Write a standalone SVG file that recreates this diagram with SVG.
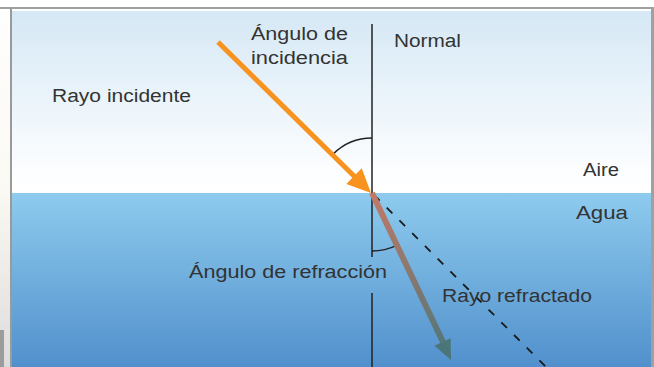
<svg xmlns="http://www.w3.org/2000/svg" width="654" height="367" viewBox="0 0 654 367">
<defs>
<linearGradient id="sky" x1="0" y1="0" x2="0" y2="1">
<stop offset="0" stop-color="#d5e8f5"/>
<stop offset="0.9" stop-color="#fdfeff"/>
<stop offset="1" stop-color="#ffffff"/>
</linearGradient>
<linearGradient id="water" x1="0" y1="0" x2="0" y2="1">
<stop offset="0" stop-color="#8ecbee"/>
<stop offset="1" stop-color="#5190cc"/>
</linearGradient>
<linearGradient id="strip" x1="0" y1="0" x2="0" y2="1">
<stop offset="0" stop-color="#fefefe"/>
<stop offset="0.5" stop-color="#fbf9f3"/>
<stop offset="1" stop-color="#dcdcdc"/>
</linearGradient>
<linearGradient id="refr" gradientUnits="userSpaceOnUse" x1="372" y1="193" x2="451" y2="360">
<stop offset="0" stop-color="#c27a68"/>
<stop offset="1" stop-color="#4b7679"/>
</linearGradient>
<style>
.t{font-family:"Liberation Sans",Arial,sans-serif;font-size:18px;fill:#333333}
.ln{stroke:#222;stroke-width:1.5;fill:none}
</style>
</defs>
<rect x="0" y="0" width="654" height="367" fill="#ffffff"/>
<rect x="0" y="10" width="10" height="357" fill="url(#strip)"/>
<rect x="0" y="330" width="4" height="37" fill="#9c9c9c"/>
<rect x="12" y="11" width="639" height="182" fill="url(#sky)"/>
<rect x="12" y="193" width="639" height="174" fill="url(#water)"/>
<rect x="0" y="7" width="654" height="2" fill="#a0a0a0"/>
<rect x="10" y="8" width="2" height="359" fill="#9a9a9a"/>
<rect x="651" y="8" width="3" height="359" fill="#a0a0a0"/>

<g id="connectors">
<line id="normal-top" class="ln" x1="372" y1="24" x2="372" y2="257"/>
<line id="normal-bottom" class="ln" x1="372" y1="293" x2="372" y2="367"/>
<line id="dashed" x1="374" y1="195" x2="546" y2="367" stroke="#1a1a1a" stroke-width="1.8" stroke-dasharray="8 10"/>
<path id="arc-inc" class="ln" stroke-width="1.2" d="M372 138 A55 55 0 0 0 333.1 154.1"/>
<path id="arc-ref" class="ln" stroke-width="1.2" d="M372 251 A58 58 0 0 0 396.8 245.4"/>
<g id="incident-ray">
<line x1="218" y1="42" x2="355" y2="177" stroke="#f7931e" stroke-width="5"/>
<polygon points="371,193 361.7,168.2 346.3,183.9" fill="#f7931e"/>
</g>
<g id="refracted-ray">
<line x1="372" y1="193" x2="443" y2="342" stroke="url(#refr)" stroke-width="6"/>
<polygon points="451,360 450.6,338.2 434.4,345.8" fill="#4b7679"/>
</g>
</g>

<g id="label-rayo-incidente"><text class="t" x="52" y="102" textLength="139" lengthAdjust="spacingAndGlyphs">Rayo incidente</text></g>
<g id="label-angulo-incidencia">
<text class="t" x="251" y="40" textLength="97" lengthAdjust="spacingAndGlyphs">Ángulo de</text>
<text class="t" x="251" y="64" textLength="97" lengthAdjust="spacingAndGlyphs">incidencia</text>
</g>
<g id="label-normal"><text class="t" x="394" y="47" textLength="67" lengthAdjust="spacingAndGlyphs">Normal</text></g>
<g id="label-aire"><text class="t" x="583" y="176" textLength="36" lengthAdjust="spacingAndGlyphs">Aire</text></g>
<g id="label-agua"><text class="t" x="576" y="219" textLength="52" lengthAdjust="spacingAndGlyphs">Agua</text></g>
<g id="label-angulo-refraccion"><text class="t" x="189" y="278" textLength="198" lengthAdjust="spacingAndGlyphs">Ángulo de refracción</text></g>
<g id="label-rayo-refractado"><text class="t" x="442" y="302" textLength="150" lengthAdjust="spacingAndGlyphs">Rayo refractado</text></g>
</svg>
